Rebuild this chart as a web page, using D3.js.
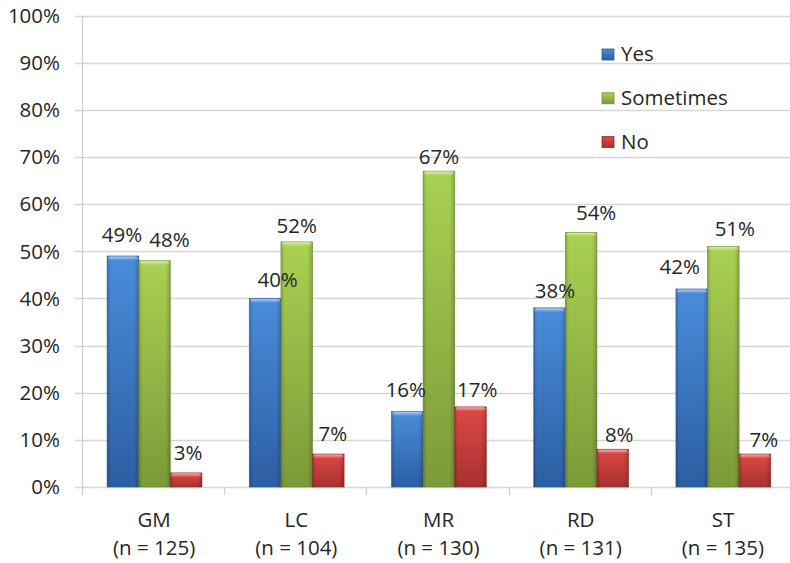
<!DOCTYPE html>
<html>
<head>
<meta charset="utf-8">
<script src="https://cdn.jsdelivr.net/npm/d3@7"></script>
<style>
  html, body { margin: 0; padding: 0; background: #fff; }
  svg { display: block; }
  text { font-family: "Open Sans", "Liberation Sans", sans-serif; fill: #262626; }
</style>
</head>
<body>
<svg id="chart" width="790" height="563"></svg>
<script>
// Survey answers per site, in percent
const categories = ["GM", "LC", "MR", "RD", "ST"];
const sampleSizes = [125, 104, 130, 131, 135];
const seriesNames = ["Yes", "Sometimes", "No"];
const yesValues = [49, 40, 16, 38, 42];
const sometimesValues = [48, 52, 67, 54, 51];
const noValues = [3, 7, 17, 8, 7];
const yTicks = [0, 10, 20, 30, 40, 50, 60, 70, 80, 90, 100];

// Colours: [light top, dark bottom, edge]
const palette = {
  "Yes": ["#4a8ddb", "#2c5ea2", "#2a5a98"],
  "Sometimes": ["#a9d152", "#7b9a39", "#6f8c33"],
  "No": ["#de4945", "#a8302e", "#952a28"]
};

// Value-label offsets [dx, gap above bar top], per series then per site
const labelNudge = {
  "Yes":       [[-1, 14], [12.5, 11], [-1.5, 14.7], [5.5, 9.4], [-12, 14.7]],
  "Sometimes": [[15, 14], [0, 9], [0, 6.7], [15, 12.6], [11.5, 11]],
  "No":        [[2, 12.6], [4.5, 12.6], [6.7, 9.7], [6.5, 7.5], [9, 7.4]]
};

const seriesValues = { "Yes": yesValues, "Sometimes": sometimesValues, "No": noValues };

const svg = d3.select("#chart");
const plotLeft = 82, plotRight = 793, plotTop = 15.5, plotBottom = 487;

const x0 = d3.scaleBand().domain(categories).range([plotLeft, plotRight]).padding(0);
const x1 = d3.scaleBand().domain(seriesNames).range([0, x0.bandwidth()])
  .paddingInner(0).paddingOuter(0.75).align(0.53);
const y = d3.scaleLinear().domain([0, 100]).range([plotBottom, plotTop]);

// Gradients
const defs = svg.append("defs");
seriesNames.forEach((s, i) => {
  const g = defs.append("linearGradient").attr("id", "grad" + i)
    .attr("x1", 0).attr("y1", 0).attr("x2", 0).attr("y2", 1);
  g.append("stop").attr("offset", "0%").attr("stop-color", palette[s][0]);
  g.append("stop").attr("offset", "100%").attr("stop-color", palette[s][1]);
  const h = defs.append("linearGradient").attr("id", "side" + i)
    .attr("x1", 0).attr("y1", 0).attr("x2", 1).attr("y2", 0);
  h.append("stop").attr("offset", "0%").attr("stop-color", "#000").attr("stop-opacity", 0.18);
  h.append("stop").attr("offset", "12%").attr("stop-color", "#000").attr("stop-opacity", 0);
  h.append("stop").attr("offset", "85%").attr("stop-color", "#000").attr("stop-opacity", 0);
  h.append("stop").attr("offset", "100%").attr("stop-color", "#000").attr("stop-opacity", 0.2);
});
const bevel = defs.append("linearGradient").attr("id", "bevel")
  .attr("x1", 0).attr("y1", 0).attr("x2", 0).attr("y2", 1);
bevel.append("stop").attr("offset", "0%").attr("stop-color", "#fff").attr("stop-opacity", 0.55);
bevel.append("stop").attr("offset", "100%").attr("stop-color", "#fff").attr("stop-opacity", 0);

// Gridlines with left tick marks
svg.append("g").selectAll("line").data(yTicks).join("line")
  .attr("x1", plotLeft - 7).attr("x2", 790)
  .attr("y1", d => Math.round(y(d)) + 0.5).attr("y2", d => Math.round(y(d)) + 0.5)
  .attr("stroke", "#d6d6d6").attr("stroke-width", 1.3);

// Y axis line
svg.append("line")
  .attr("x1", plotLeft + 0.5).attr("x2", plotLeft + 0.5)
  .attr("y1", Math.round(y(100))).attr("y2", plotBottom + 8)
  .attr("stroke", "#cfcfcf").attr("stroke-width", 1.3);

// Category boundary ticks
svg.append("g").selectAll("line").data(categories.slice(1)).join("line")
  .attr("x1", d => Math.round(x0(d)) + 0.5).attr("x2", d => Math.round(x0(d)) + 0.5)
  .attr("y1", plotBottom).attr("y2", plotBottom + 8)
  .attr("stroke", "#cfcfcf").attr("stroke-width", 1.3);

// Y tick labels
svg.append("g").selectAll("text").data(yTicks).join("text")
  .attr("x", 60).attr("y", d => y(d))
  .attr("dy", "0.36em")
  .attr("text-anchor", "end")
  .attr("font-size", 20.5)
  .text(d => d + "%");

// Bars
const rows = [];
seriesNames.forEach((s, si) => {
  categories.forEach((c, ci) => {
    rows.push({ s, si, c, ci, v: seriesValues[s][ci] });
  });
});

const bars = svg.append("g");
const bx = d => x0(d.c) + x1(d.s);
const bw = x1.bandwidth();

bars.selectAll("rect.fill").data(rows).join("rect")
  .attr("class", "fill")
  .attr("x", bx).attr("y", d => y(d.v))
  .attr("width", bw).attr("height", d => y(0) - y(d.v))
  .attr("fill", d => "url(#grad" + d.si + ")")
  .attr("stroke", d => palette[d.s][2]).attr("stroke-width", 0.8).attr("stroke-opacity", 0.7);

bars.selectAll("rect.side").data(rows).join("rect")
  .attr("class", "side")
  .attr("x", bx).attr("y", d => y(d.v))
  .attr("width", bw).attr("height", d => y(0) - y(d.v))
  .attr("fill", d => "url(#side" + d.si + ")");

bars.selectAll("rect.bevel").data(rows).join("rect")
  .attr("class", "bevel")
  .attr("x", d => bx(d) + 1).attr("y", d => y(d.v) + 0.5)
  .attr("width", bw - 2).attr("height", 4)
  .attr("rx", 1.5)
  .attr("fill", "url(#bevel)");

// Value labels
svg.append("g").selectAll("text").data(rows).join("text")
  .attr("x", d => bx(d) + bw / 2 + labelNudge[d.s][d.ci][0])
  .attr("y", d => y(d.v) - labelNudge[d.s][d.ci][1])
  .attr("text-anchor", "middle")
  .attr("font-size", 20.5)
  .text(d => d.v + "%");

// Category labels
const catLabels = svg.append("g").selectAll("g").data(categories).join("g")
  .attr("transform", d => `translate(${x0(d) + x0.bandwidth() / 2 + 1},0)`);
catLabels.append("text").attr("y", 527).attr("text-anchor", "middle")
  .attr("font-size", 20.5).text(d => d);
catLabels.append("text").attr("y", 555).attr("text-anchor", "middle")
  .attr("font-size", 20.5).text((d, i) => `(n = ${sampleSizes[i]})`);

// Legend
const legend = svg.append("g").selectAll("g").data(seriesNames).join("g")
  .attr("transform", (d, i) => `translate(602, ${61 + i * 43.8})`);
legend.append("rect")
  .attr("x", 0).attr("y", -12).attr("width", 12).attr("height", 11)
  .attr("fill", (d, i) => "url(#grad" + i + ")")
  .attr("stroke", d => palette[d][2]).attr("stroke-width", 0.8);
legend.append("text").attr("x", 19).attr("y", 0)
  .attr("font-size", 20.5).text(d => d);
</script>
</body>
</html>
